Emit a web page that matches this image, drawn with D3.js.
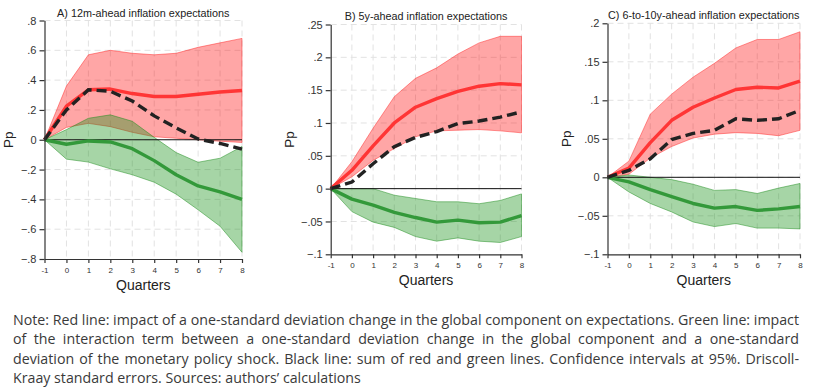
<!DOCTYPE html>
<html><head><meta charset="utf-8">
<script src="https://cdn.jsdelivr.net/npm/d3@7"></script>
<style>body{margin:0;background:#fff;} svg{display:block;}</style>
</head><body><svg id="c" width="813" height="389"></svg>
<script>
// ---------- DATA ----------
const quarters = [-1, 0, 1, 2, 3, 4, 5, 6, 7, 8];
const xTickLabels = ["-1", "0", "1", "2", "3", "4", "5", "6", "7", "8"];

// Panel A: 12m-ahead
const aRed     = [0, 0.225, 0.335, 0.34, 0.31, 0.29, 0.29, 0.305, 0.32, 0.33];
const aRedHi   = [0, 0.36, 0.57, 0.60, 0.58, 0.57, 0.58, 0.62, 0.65, 0.68];
const aRedLo   = [0, 0.083, 0.11, 0.088, 0.05, 0.02, 0.01, 0.0, -0.01, -0.018];
const aGreen   = [0, -0.03, -0.008, -0.015, -0.06, -0.14, -0.235, -0.31, -0.35, -0.40];
const aGreenHi = [0, 0.068, 0.144, 0.167, 0.124, 0.016, -0.086, -0.151, -0.124, -0.045];
const aGreenLo = [0, -0.13, -0.15, -0.195, -0.235, -0.285, -0.365, -0.47, -0.58, -0.755];
const aSum     = [0, 0.2, 0.335, 0.325, 0.26, 0.16, 0.08, 0.005, -0.025, -0.063];
const aYTicks  = [-0.8, -0.6, -0.4, -0.2, 0, 0.2, 0.4, 0.6, 0.8];

// Panel B: 5y-ahead
const bRed     = [0, 0.028, 0.065, 0.10, 0.124, 0.137, 0.148, 0.156, 0.16, 0.158];
const bRedHi   = [0, 0.041, 0.092, 0.14, 0.168, 0.184, 0.205, 0.222, 0.232, 0.232];
const bRedLo   = [0, 0.018, 0.043, 0.061, 0.079, 0.088, 0.089, 0.09, 0.088, 0.085];
const bGreen   = [0, -0.016, -0.025, -0.036, -0.044, -0.051, -0.048, -0.052, -0.051, -0.041];
const bGreenHi = [0, 0, 0, -0.01, -0.015, -0.02, -0.02, -0.023, -0.018, -0.008];
const bGreenLo = [0, -0.035, -0.051, -0.059, -0.073, -0.08, -0.075, -0.08, -0.082, -0.073];
const bSum     = [0, 0.01, 0.038, 0.064, 0.078, 0.087, 0.099, 0.103, 0.109, 0.117];
const bYTicks  = [-0.1, -0.05, 0, 0.05, 0.1, 0.15, 0.2, 0.25];

// Panel C: 6-to-10y-ahead
const cRed     = [0, 0.012, 0.045, 0.074, 0.091, 0.103, 0.114, 0.117, 0.116, 0.125];
const cRedHi   = [0, 0.021, 0.082, 0.108, 0.13, 0.148, 0.168, 0.179, 0.179, 0.189];
const cRedLo   = [0, 0.004, 0.025, 0.04, 0.051, 0.056, 0.058, 0.057, 0.054, 0.061];
const cGreen   = [0, -0.006, -0.016, -0.025, -0.034, -0.04, -0.038, -0.043, -0.041, -0.038];
const cGreenHi = [0, 0.003, 0, -0.003, -0.009, -0.017, -0.016, -0.021, -0.014, -0.008];
const cGreenLo = [0, -0.019, -0.034, -0.045, -0.058, -0.064, -0.06, -0.066, -0.066, -0.067];
const cSum     = [0, 0.009, 0.024, 0.049, 0.057, 0.061, 0.076, 0.074, 0.076, 0.087];
const cYTicks  = [-0.1, -0.05, 0, 0.05, 0.1, 0.15, 0.2];

const titles = ["A) 12m-ahead inflation expectations", "B) 5y-ahead inflation expectations", "C) 6-to-10y-ahead inflation expectations"];
const xAxisTitle = "Quarters";
const yAxisTitle = "Pp";

const noteLines = [
  "Note: Red line: impact of a one-standard deviation change in the global component on expectations. Green line: impact",
  "of the interaction term between a one-standard deviation change in the global component and a one-standard",
  "deviation of the monetary policy shock. Black line: sum of red and green lines. Confidence intervals at 95%. Driscoll-",
  "Kraay standard errors. Sources: authors\u2019 calculations"
];

// ---------- DRAW ----------
const svg = d3.select("#c");
svg.append("rect").attr("width", 813).attr("height", 389).attr("fill", "#fff");
const FONT = "'Liberation Sans', Arial, sans-serif";

const panels = [
  {title: titles[0], x0: 44.5, x1: 242, yTop: 20.5, yBot: 259, dom: [-0.8, 0.8], ticks: aYTicks,
   red: aRed, redHi: aRedHi, redLo: aRedLo, green: aGreen, greenHi: aGreenHi, greenLo: aGreenLo, sum: aSum,
   titleY: 17, ppX: 8},
  {title: titles[1], x0: 330.7, x1: 521.5, yTop: 24.5, yBot: 254.3, dom: [-0.1, 0.25], ticks: bYTicks,
   red: bRed, redHi: bRedHi, redLo: bRedLo, green: bGreen, greenHi: bGreenHi, greenLo: bGreenLo, sum: bSum,
   titleY: 20, ppX: 289},
  {title: titles[2], x0: 607.5, x1: 800, yTop: 23.3, yBot: 254.3, dom: [-0.1, 0.2], ticks: cYTicks,
   red: cRed, redHi: cRedHi, redLo: cRedLo, green: cGreen, greenHi: cGreenHi, greenLo: cGreenLo, sum: cSum,
   titleY: 19, ppX: 566}
];

const fmt = v => {
  if (v === 0) return "0";
  let s = d3.format("")(+v.toFixed(3));
  return s.replace("0.", ".");
};

panels.forEach(p => {
  const x = d3.scaleLinear().domain([-1, 8]).range([p.x0, p.x1]);
  const y = d3.scaleLinear().domain(p.dom).range([p.yBot, p.yTop]);
  const g = svg.append("g");

  // grid
  g.selectAll(".vg").data(quarters.filter(q => q > -1)).enter().append("line")
    .attr("x1", d => x(d)).attr("x2", d => x(d)).attr("y1", p.yTop).attr("y2", p.yBot)
    .attr("stroke", "#e2e2e2").attr("stroke-width", 1).attr("stroke-dasharray", "6,4");
  g.selectAll(".hg").data(p.ticks.filter(t => t > p.dom[0])).enter().append("line")
    .attr("x1", p.x0).attr("x2", p.x1).attr("y1", d => y(d)).attr("y2", d => y(d))
    .attr("stroke", "#e2e2e2").attr("stroke-width", 1).attr("stroke-dasharray", "6,4");

  const idx = d3.range(quarters.length);
  const area = (lo, hi) => d3.area().x(i => x(quarters[i])).y0(i => y(lo[i])).y1(i => y(hi[i]))(idx);
  const line = arr => d3.line().x(i => x(quarters[i])).y(i => y(arr[i]))(idx);

  g.append("path").attr("d", area(p.redLo, p.redHi))
    .attr("fill", "rgba(255,0,0,0.35)").attr("stroke", "rgba(255,40,40,0.55)").attr("stroke-width", 0.9);
  g.append("path").attr("d", area(p.greenLo, p.greenHi))
    .attr("fill", "rgba(20,145,20,0.38)").attr("stroke", "rgba(30,140,30,0.55)").attr("stroke-width", 0.9);

  // zero line
  g.append("line").attr("x1", x(-1)).attr("x2", x(8)).attr("y1", y(0)).attr("y2", y(0))
    .attr("stroke", "#111").attr("stroke-width", 1);

  g.append("path").attr("d", line(p.red)).attr("fill", "none")
    .attr("stroke", "#ff3535").attr("stroke-width", 3.4).attr("stroke-linejoin", "round");
  g.append("path").attr("d", line(p.green)).attr("fill", "none")
    .attr("stroke", "#33993a").attr("stroke-width", 3.4).attr("stroke-linejoin", "round");
  g.append("path").attr("d", line(p.sum)).attr("fill", "none")
    .attr("stroke", "#222").attr("stroke-width", 3.4).attr("stroke-dasharray", "10,5");

  // axes
  const ya = g.append("g").attr("transform", `translate(${p.x0},0)`)
    .call(d3.axisLeft(y).tickValues(p.ticks).tickFormat(fmt).tickSize(5).tickSizeOuter(0).tickPadding(3));
  ya.select(".domain").attr("stroke", "#333").attr("stroke-width", 1.2);
  ya.selectAll(".tick line").attr("stroke", "#333").attr("stroke-width", 1.2);
  ya.selectAll("text").attr("font-family", FONT).attr("font-size", 11).attr("fill", "#333");

  const xa = g.append("g").attr("transform", `translate(0,${p.yBot})`)
    .call(d3.axisBottom(x).tickValues(quarters).tickFormat((d, i) => xTickLabels[i]).tickSize(4).tickSizeOuter(0).tickPadding(4));
  xa.select(".domain").attr("stroke", "#333").attr("stroke-width", 1.2);
  xa.selectAll(".tick line").attr("stroke", "#333").attr("stroke-width", 1.2);
  xa.selectAll("text").attr("font-family", FONT).attr("font-size", 8).attr("fill", "#333");

  // titles
  const cx = (p.x0 + p.x1) / 2;
  svg.append("text").attr("x", cx).attr("y", p.titleY).attr("text-anchor", "middle")
    .attr("font-family", FONT).attr("font-size", 10.8).attr("fill", "#222").text(p.title);
  svg.append("text").attr("x", cx).attr("y", p.yBot + 31).attr("text-anchor", "middle")
    .attr("font-family", FONT).attr("font-size", 14).attr("fill", "#222").text(xAxisTitle);
  const my = (p.yTop + p.yBot) / 2;
  svg.append("text").attr("transform", `translate(${p.ppX + 5},${my}) rotate(-90)`).attr("text-anchor", "middle")
    .attr("font-family", FONT).attr("font-size", 13.5).attr("fill", "#222").text(yAxisTitle);
});

// ---------- NOTE (justified) ----------
const NOTE_FONT = "'Open Sans', sans-serif";
const noteSize = 13.6;
const left = 13, right = 799, fullW = right - left;
const baselines = [324.5, 344, 363.5, 383];
const meas = svg.append("text").attr("font-family", NOTE_FONT).attr("font-size", noteSize).attr("x", -1000).attr("y", -100);
const widthOf = s => { meas.text(s); return meas.node().getComputedTextLength(); };
const spaceW = widthOf("a a") - widthOf("aa");
const linesWords = noteLines.map(l => l.split(" "));
const wordWs = linesWords.map(ws => ws.map(widthOf));
const nat0 = d3.sum(wordWs[0]) + spaceW * (wordWs[0].length - 1);
const sc = fullW / nat0;
meas.remove();

linesWords.forEach((ws, li) => {
  const widths = wordWs[li].map(w => w * sc);
  let gap = spaceW * sc;
  if (li < noteLines.length - 1) gap = (fullW - d3.sum(widths)) / (ws.length - 1);
  let xpos = left;
  ws.forEach((w, wi) => {
    svg.append("text").attr("x", xpos).attr("y", baselines[li])
      .attr("font-family", NOTE_FONT).attr("font-size", noteSize).attr("fill", "#3a3a3a")
      .attr("textLength", widths[wi]).attr("lengthAdjust", "spacingAndGlyphs").text(w);
    xpos += widths[wi] + gap;
  });
});
</script>
</body></html>
